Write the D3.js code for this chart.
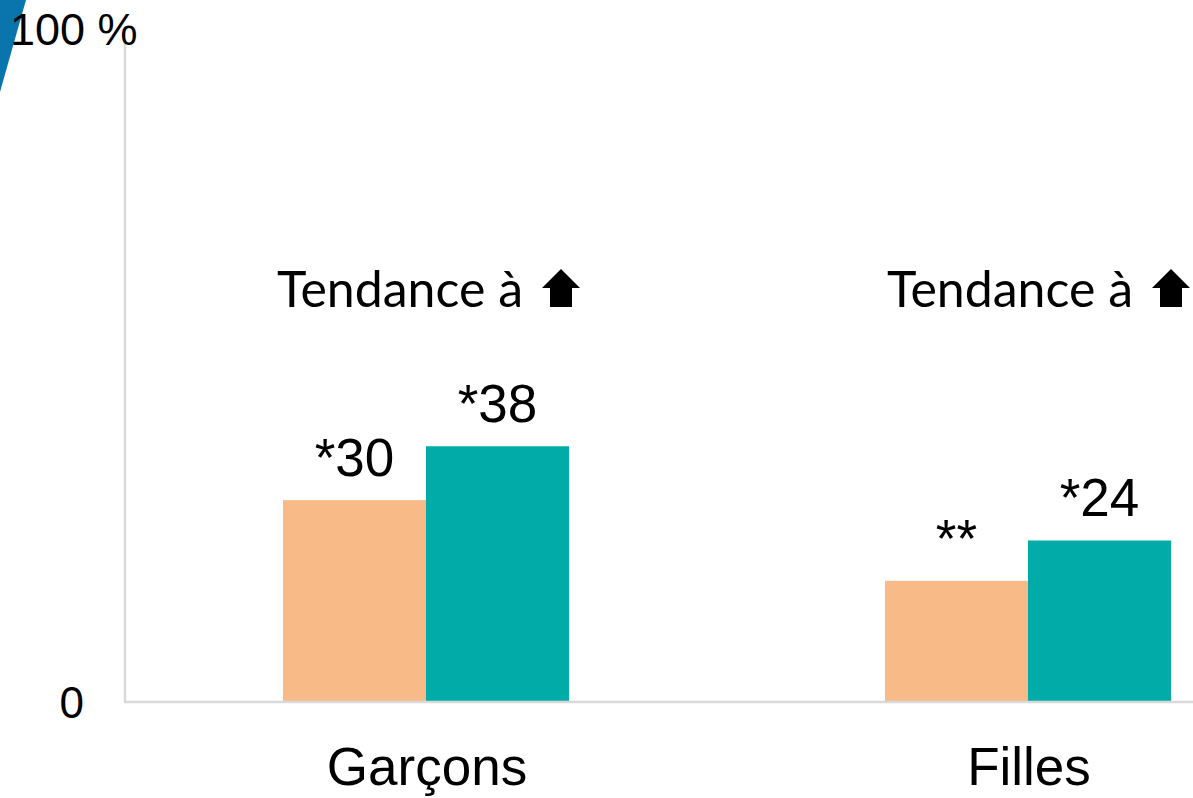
<!DOCTYPE html>
<html>
<head>
<meta charset="utf-8">
<script src="https://cdn.jsdelivr.net/npm/d3@7"></script>
<style>
  html, body { margin: 0; padding: 0; background: #fff; overflow: hidden; }
  svg { display: block; }
</style>
</head>
<body>
<svg id="chart" width="1193" height="798"></svg>
<script>
// ---- Data ----
const categories = ["Garçons", "Filles"];
const seriesNames = ["Série 1", "Série 2"];
const seriesColors = ["#F8BB87", "#00ABA8"];
const values = [
  [30, 38],   // Garçons
  [18, 24]    // Filles
];
const valueLabels = [
  ["*30", "*38"],
  ["**", "*24"]
];
const trendLabels = ["Tendance à", "Tendance à"];
const yTickLabels = ["0", "100 %"];
const yDomain = [0, 100];

// ---- Layout ----
const svg = d3.select("#chart");
const W = 1193, H = 798;
const x0 = 125, baseY = 702, topY = 29;

const x = d3.scaleBand().domain(categories).range([x0, x0 + 2 * 602]).paddingInner(0).paddingOuter(0);
const xs = d3.scaleBand().domain(seriesNames).range([0, 286]);
const y = d3.scaleLinear().domain(yDomain).range([baseY, topY]);
const barOffset = (x.bandwidth() - 286) / 2;

// Decorative blue corner shape
svg.append("path")
  .attr("d", "M0,0 L26,0 L0,92 Z")
  .attr("fill", "#0A74AC");

// Axis line
svg.append("line")
  .attr("x1", x0).attr("x2", x0)
  .attr("y1", 42).attr("y2", baseY)
  .attr("stroke", "#D9D9D9").attr("stroke-width", 2.5);

// Bars
const groups = svg.selectAll("g.cat")
  .data(categories)
  .join("g")
  .attr("class", "cat")
  .attr("transform", d => `translate(${x(d) + barOffset},0)`);

groups.selectAll("rect")
  .data((d, i) => values[i].map((v, j) => ({ v, j })))
  .join("rect")
  .attr("x", d => xs(seriesNames[d.j]))
  .attr("width", xs.bandwidth())
  .attr("y", d => y(d.v))
  .attr("height", d => baseY - y(d.v))
  .attr("fill", d => seriesColors[d.j]);

groups.selectAll("text.val")
  .data((d, i) => values[i].map((v, j) => ({ v, j, label: valueLabels[i][j] })))
  .join("text")
  .attr("class", "val")
  .attr("x", d => xs(seriesNames[d.j]) + xs.bandwidth() / 2)
  .attr("y", d => y(d.v) - 24)
  .attr("text-anchor", "middle")
  .attr("font-family", "Liberation Sans, Arial, sans-serif")
  .attr("font-size", 53)
  .attr("fill", "#000")
  .text(d => d.label);

// baseline
svg.append("line")
  .attr("x1", x0 - 1).attr("x2", W)
  .attr("y1", baseY).attr("y2", baseY)
  .attr("stroke", "#D9D9D9").attr("stroke-width", 2.5);

// Category labels
svg.selectAll("text.cat")
  .data(categories)
  .join("text")
  .attr("class", "cat")
  .attr("x", d => x(d) + x.bandwidth() / 2 + 1)
  .attr("y", 785)
  .attr("text-anchor", "middle")
  .attr("font-family", "Liberation Sans, Arial, sans-serif")
  .attr("font-size", 53)
  .attr("fill", "#000")
  .text(d => d);

// Y tick labels
svg.append("text")
  .attr("x", 84).attr("y", y(yDomain[0]) + 16)
  .attr("text-anchor", "end")
  .attr("font-family", "Liberation Sans, Arial, sans-serif")
  .attr("font-size", 44)
  .text(yTickLabels[0]);
svg.append("text")
  .attr("x", 10).attr("y", y(yDomain[1]) + 16)
  .attr("text-anchor", "start")
  .attr("font-family", "Liberation Sans, Arial, sans-serif")
  .attr("font-size", 45)
  .text(yTickLabels[1]);

// Trend annotations
const trend = svg.selectAll("g.trend")
  .data(categories)
  .join("g")
  .attr("class", "trend")
  .attr("transform", (d, i) => `translate(${x(d) + x.bandwidth() / 2 + (i === 0 ? 0 : 8)},0)`);

trend.append("text")
  .attr("x", 97)
  .attr("y", 307)
  .attr("text-anchor", "end")
  .attr("font-family", "Lato, 'Open Sans', sans-serif")
  .attr("font-size", 50)
  .attr("fill", "#000")
  .text((d, i) => trendLabels[i]);

trend.append("path")
  .attr("d", "M116,288 L135,269 L154,288 L146,288 L146,307 L124,307 L124,288 Z")
  .attr("fill", "#000");
</script>
</body>
</html>
